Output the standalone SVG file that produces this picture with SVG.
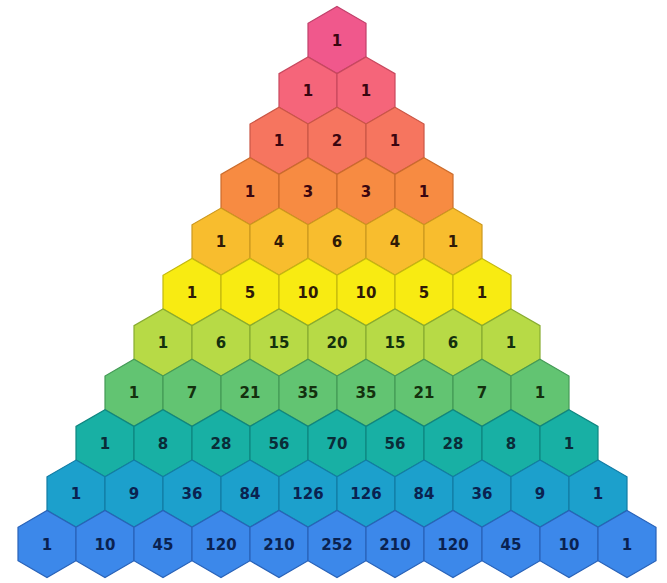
<svg xmlns="http://www.w3.org/2000/svg" xmlns:xlink="http://www.w3.org/1999/xlink" width="667" height="583" viewBox="0 0 667 583">
<defs>
<style>
text{font-family:"DejaVu Sans","Liberation Sans",sans-serif;font-weight:bold;font-size:15px;text-anchor:middle}
use{stroke-width:1.2}
.r0 use{fill:#F0588C;stroke:#C0406A}
.r1 use{fill:#F5657A;stroke:#C8485E}
.r2 use{fill:#F6755F;stroke:#CA5646}
.r3 use{fill:#F78B42;stroke:#CC6C2C}
.r4 use{fill:#F8BD2E;stroke:#CC981E}
.r5 use{fill:#F8EB12;stroke:#C4B80E}
.r6 use{fill:#B7DA46;stroke:#88AC30}
.r7 use{fill:#62C472;stroke:#449A56}
.r8 use{fill:#18B0A4;stroke:#0E8680}
.r9 use{fill:#1CA0CC;stroke:#127CA4}
.r10 use{fill:#3C88EA;stroke:#2862B8}
.r0 text,.r1 text,.r2 text,.r3 text{fill:#3A0610}
.r4 text,.r5 text{fill:#301A06}
.r6 text,.r7 text{fill:#14300E}
.r8 text{fill:#0A2C38}
.r9 text,.r10 text{fill:#0A2250}
</style>
<path id="hex" d="M0,-33.5 L29,-16.75 L29,16.75 L0,33.5 L-29,16.75 L-29,-16.75 Z"/>
</defs>
<rect width="667" height="583" fill="#ffffff"/>
<g id="nodes">
<g class="r0">
<g id="n0_0" transform="translate(337,40)"><use href="#hex"/><text y="5.5">1</text></g>
</g>
<g class="r1">
<g id="n1_0" transform="translate(308,90.4)"><use href="#hex"/><text y="5.5">1</text></g>
<g id="n1_1" transform="translate(366,90.4)"><use href="#hex"/><text y="5.5">1</text></g>
</g>
<g class="r2">
<g id="n2_0" transform="translate(279,140.8)"><use href="#hex"/><text y="5.5">1</text></g>
<g id="n2_1" transform="translate(337,140.8)"><use href="#hex"/><text y="5.5">2</text></g>
<g id="n2_2" transform="translate(395,140.8)"><use href="#hex"/><text y="5.5">1</text></g>
</g>
<g class="r3">
<g id="n3_0" transform="translate(250,191.2)"><use href="#hex"/><text y="5.5">1</text></g>
<g id="n3_1" transform="translate(308,191.2)"><use href="#hex"/><text y="5.5">3</text></g>
<g id="n3_2" transform="translate(366,191.2)"><use href="#hex"/><text y="5.5">3</text></g>
<g id="n3_3" transform="translate(424,191.2)"><use href="#hex"/><text y="5.5">1</text></g>
</g>
<g class="r4">
<g id="n4_0" transform="translate(221,241.6)"><use href="#hex"/><text y="5.5">1</text></g>
<g id="n4_1" transform="translate(279,241.6)"><use href="#hex"/><text y="5.5">4</text></g>
<g id="n4_2" transform="translate(337,241.6)"><use href="#hex"/><text y="5.5">6</text></g>
<g id="n4_3" transform="translate(395,241.6)"><use href="#hex"/><text y="5.5">4</text></g>
<g id="n4_4" transform="translate(453,241.6)"><use href="#hex"/><text y="5.5">1</text></g>
</g>
<g class="r5">
<g id="n5_0" transform="translate(192,292)"><use href="#hex"/><text y="5.5">1</text></g>
<g id="n5_1" transform="translate(250,292)"><use href="#hex"/><text y="5.5">5</text></g>
<g id="n5_2" transform="translate(308,292)"><use href="#hex"/><text y="5.5">10</text></g>
<g id="n5_3" transform="translate(366,292)"><use href="#hex"/><text y="5.5">10</text></g>
<g id="n5_4" transform="translate(424,292)"><use href="#hex"/><text y="5.5">5</text></g>
<g id="n5_5" transform="translate(482,292)"><use href="#hex"/><text y="5.5">1</text></g>
</g>
<g class="r6">
<g id="n6_0" transform="translate(163,342.4)"><use href="#hex"/><text y="5.5">1</text></g>
<g id="n6_1" transform="translate(221,342.4)"><use href="#hex"/><text y="5.5">6</text></g>
<g id="n6_2" transform="translate(279,342.4)"><use href="#hex"/><text y="5.5">15</text></g>
<g id="n6_3" transform="translate(337,342.4)"><use href="#hex"/><text y="5.5">20</text></g>
<g id="n6_4" transform="translate(395,342.4)"><use href="#hex"/><text y="5.5">15</text></g>
<g id="n6_5" transform="translate(453,342.4)"><use href="#hex"/><text y="5.5">6</text></g>
<g id="n6_6" transform="translate(511,342.4)"><use href="#hex"/><text y="5.5">1</text></g>
</g>
<g class="r7">
<g id="n7_0" transform="translate(134,392.8)"><use href="#hex"/><text y="5.5">1</text></g>
<g id="n7_1" transform="translate(192,392.8)"><use href="#hex"/><text y="5.5">7</text></g>
<g id="n7_2" transform="translate(250,392.8)"><use href="#hex"/><text y="5.5">21</text></g>
<g id="n7_3" transform="translate(308,392.8)"><use href="#hex"/><text y="5.5">35</text></g>
<g id="n7_4" transform="translate(366,392.8)"><use href="#hex"/><text y="5.5">35</text></g>
<g id="n7_5" transform="translate(424,392.8)"><use href="#hex"/><text y="5.5">21</text></g>
<g id="n7_6" transform="translate(482,392.8)"><use href="#hex"/><text y="5.5">7</text></g>
<g id="n7_7" transform="translate(540,392.8)"><use href="#hex"/><text y="5.5">1</text></g>
</g>
<g class="r8">
<g id="n8_0" transform="translate(105,443.2)"><use href="#hex"/><text y="5.5">1</text></g>
<g id="n8_1" transform="translate(163,443.2)"><use href="#hex"/><text y="5.5">8</text></g>
<g id="n8_2" transform="translate(221,443.2)"><use href="#hex"/><text y="5.5">28</text></g>
<g id="n8_3" transform="translate(279,443.2)"><use href="#hex"/><text y="5.5">56</text></g>
<g id="n8_4" transform="translate(337,443.2)"><use href="#hex"/><text y="5.5">70</text></g>
<g id="n8_5" transform="translate(395,443.2)"><use href="#hex"/><text y="5.5">56</text></g>
<g id="n8_6" transform="translate(453,443.2)"><use href="#hex"/><text y="5.5">28</text></g>
<g id="n8_7" transform="translate(511,443.2)"><use href="#hex"/><text y="5.5">8</text></g>
<g id="n8_8" transform="translate(569,443.2)"><use href="#hex"/><text y="5.5">1</text></g>
</g>
<g class="r9">
<g id="n9_0" transform="translate(76,493.6)"><use href="#hex"/><text y="5.5">1</text></g>
<g id="n9_1" transform="translate(134,493.6)"><use href="#hex"/><text y="5.5">9</text></g>
<g id="n9_2" transform="translate(192,493.6)"><use href="#hex"/><text y="5.5">36</text></g>
<g id="n9_3" transform="translate(250,493.6)"><use href="#hex"/><text y="5.5">84</text></g>
<g id="n9_4" transform="translate(308,493.6)"><use href="#hex"/><text y="5.5">126</text></g>
<g id="n9_5" transform="translate(366,493.6)"><use href="#hex"/><text y="5.5">126</text></g>
<g id="n9_6" transform="translate(424,493.6)"><use href="#hex"/><text y="5.5">84</text></g>
<g id="n9_7" transform="translate(482,493.6)"><use href="#hex"/><text y="5.5">36</text></g>
<g id="n9_8" transform="translate(540,493.6)"><use href="#hex"/><text y="5.5">9</text></g>
<g id="n9_9" transform="translate(598,493.6)"><use href="#hex"/><text y="5.5">1</text></g>
</g>
<g class="r10">
<g id="n10_0" transform="translate(47,544)"><use href="#hex"/><text y="5.5">1</text></g>
<g id="n10_1" transform="translate(105,544)"><use href="#hex"/><text y="5.5">10</text></g>
<g id="n10_2" transform="translate(163,544)"><use href="#hex"/><text y="5.5">45</text></g>
<g id="n10_3" transform="translate(221,544)"><use href="#hex"/><text y="5.5">120</text></g>
<g id="n10_4" transform="translate(279,544)"><use href="#hex"/><text y="5.5">210</text></g>
<g id="n10_5" transform="translate(337,544)"><use href="#hex"/><text y="5.5">252</text></g>
<g id="n10_6" transform="translate(395,544)"><use href="#hex"/><text y="5.5">210</text></g>
<g id="n10_7" transform="translate(453,544)"><use href="#hex"/><text y="5.5">120</text></g>
<g id="n10_8" transform="translate(511,544)"><use href="#hex"/><text y="5.5">45</text></g>
<g id="n10_9" transform="translate(569,544)"><use href="#hex"/><text y="5.5">10</text></g>
<g id="n10_10" transform="translate(627,544)"><use href="#hex"/><text y="5.5">1</text></g>
</g>
</g>
</svg>
